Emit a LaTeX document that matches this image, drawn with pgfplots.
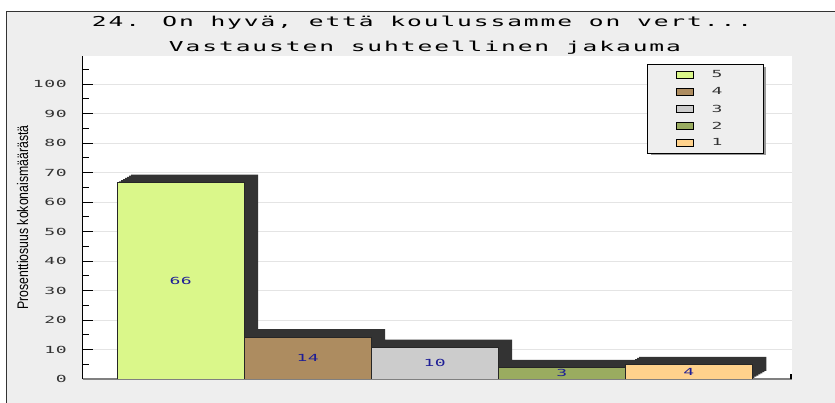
\documentclass[border=0pt]{standalone}
\usepackage{fontspec}
\usepackage{pgfplots}
\pgfplotsset{compat=1.18}
\newfontfamily\titlefont[FakeStretch=1.8,LetterSpace=14]{DejaVu Sans Mono}
\newfontfamily\tickfont[FakeStretch=1.85,LetterSpace=6]{DejaVu Sans Mono}
\newfontfamily\labelfont[FakeStretch=0.8]{Liberation Sans}
\definecolor{bg}{HTML}{EEEEEE}
\definecolor{shad}{HTML}{333333}
\definecolor{gridgray}{HTML}{E4E4E4}
\definecolor{tickgray}{HTML}{333333}
\definecolor{labelblue}{HTML}{1E1E96}
\definecolor{c5}{HTML}{DAF78A}
\definecolor{c4}{HTML}{AD8C60}
\definecolor{c3}{HTML}{CCCCCC}
\definecolor{c2}{HTML}{9AAC60}
\definecolor{c1}{HTML}{FFD28C}
\pgfplotsset{
  mybar/.style={ybar, bar width=1, bar shift=0pt, draw=black!85, line width=1bp,
    legend image code/.code={%
      \path (0bp,-8bp) (63bp,8bp);
      \draw[##1, draw=black, line width=1.2bp] (28bp,-3.5bp) rectangle (45bp,3.5bp);}},
}
\newcommand{\shadowplot}[2]{%
  \addplot[ybar, bar width=1, bar shift=0pt, fill=shad, draw=none, xshift=#1, yshift=#2, forget plot]
    coordinates {(0,66.6) (1,14.2) (2,10.6) (3,3.8) (4,4.8)};}
\begin{document}
\begin{tikzpicture}
% background frame
\fill[white] (-83bp,-24bp) rectangle (752bp,379bp);
\fill[bg] (-76bp,-24bp) rectangle (752bp,367bp);
\draw[black!80, line width=1bp] (-76bp,-24bp) -- (-76bp,367bp) -- (752bp,367bp);
\begin{axis}[
  width=709bp, height=323bp, scale only axis,
  xmin=-0.769, xmax=4.813, ymin=0, ymax=109.5,
  axis x line*=bottom, axis y line*=left,
  x axis line style={draw=black!50, line width=1.4bp},
  y axis line style={draw=black, line width=1bp},
  xtick=\empty,
  extra x ticks={4.805}, extra x tick labels={},
  extra x tick style={major tick length=5bp, tick align=inside, every tick/.style={black, line width=1.5bp}},
  ytick={0,10,...,100}, minor ytick={5,15,...,105},
  tick align=inside, major tick length=10bp, minor tick length=6bp,
  every tick/.style={black, line width=0.9bp},
  ymajorgrids, grid style={draw=gridgray, line width=1bp},
  axis background/.style={fill=white},
  /pgf/number format/assume math mode=true,
  yticklabel style={font=\tickfont\fontsize{9.8}{11}\selectfont, text=tickgray, xshift=-12.8bp},
  ylabel={Prosenttiosuus kokonaismäärästä},
  ylabel style={at={(axis description cs:-0.0853,0.5)}, anchor=center,
    font=\labelfont\fontsize{15.4}{16}\selectfont},
  legend style={at={(rel axis cs:0.7955,0.975)}, anchor=north west,
    fill=bg, draw=black, line width=1.2bp,
    font=\tickfont\fontsize{9.8}{11}\selectfont, text=tickgray,
    inner xsep=0pt, inner ysep=2bp, row sep=0pt,
    nodes={inner sep=0pt},
    cells={anchor=west}},
]
\shadowplot{2bp}{1.15bp}
\shadowplot{4bp}{2.3bp}
\shadowplot{6bp}{3.45bp}
\shadowplot{8bp}{4.6bp}
\shadowplot{10bp}{5.7bp}
\shadowplot{12bp}{6.85bp}
\shadowplot{14bp}{8bp}
\addplot[mybar, fill=c5] coordinates {(0,66.6)};
\addlegendentry{\makebox[52bp][l]{5}}
\addplot[mybar, fill=c4] coordinates {(1,14.2)};
\addlegendentry{\makebox[52bp][l]{4}}
\addplot[mybar, fill=c3] coordinates {(2,10.6)};
\addlegendentry{\makebox[52bp][l]{3}}
\addplot[mybar, fill=c2] coordinates {(3,3.8)};
\addlegendentry{\makebox[52bp][l]{2}}
\addplot[mybar, fill=c1] coordinates {(4,4.8)};
\addlegendentry{\makebox[52bp][l]{1}}
\addplot[draw=none, mark=none, forget plot, nodes near coords, point meta=explicit symbolic,
  nodes near coords align={center},
  every node near coord/.style={font=\tickfont\fontsize{9.8}{11}\selectfont, text=labelblue}]
  coordinates {(0,33.3) [66] (1,7.1) [14] (2,5.3) [10] (3,1.9) [3] (4,2.4) [4]};
% legend shadow (decoration)
\fill[black!40] (rel axis cs:0.8011,0.9659) rectangle (rel axis cs:0.9633,0.6935);
\end{axis}
\node[anchor=base, font=\titlefont\fontsize{13.7}{16}\selectfont, text=black] at (339bp,352bp)
  {24. On hyvä, että koulussamme on vert...};
\node[anchor=base, font=\titlefont\fontsize{13.7}{16}\selectfont, text=black] at (342bp,327bp)
  {Vastausten suhteellinen jakauma};
\pgfresetboundingbox
\useasboundingbox (-83bp,-24bp) rectangle (752bp,379bp);
\end{tikzpicture}
\end{document}
